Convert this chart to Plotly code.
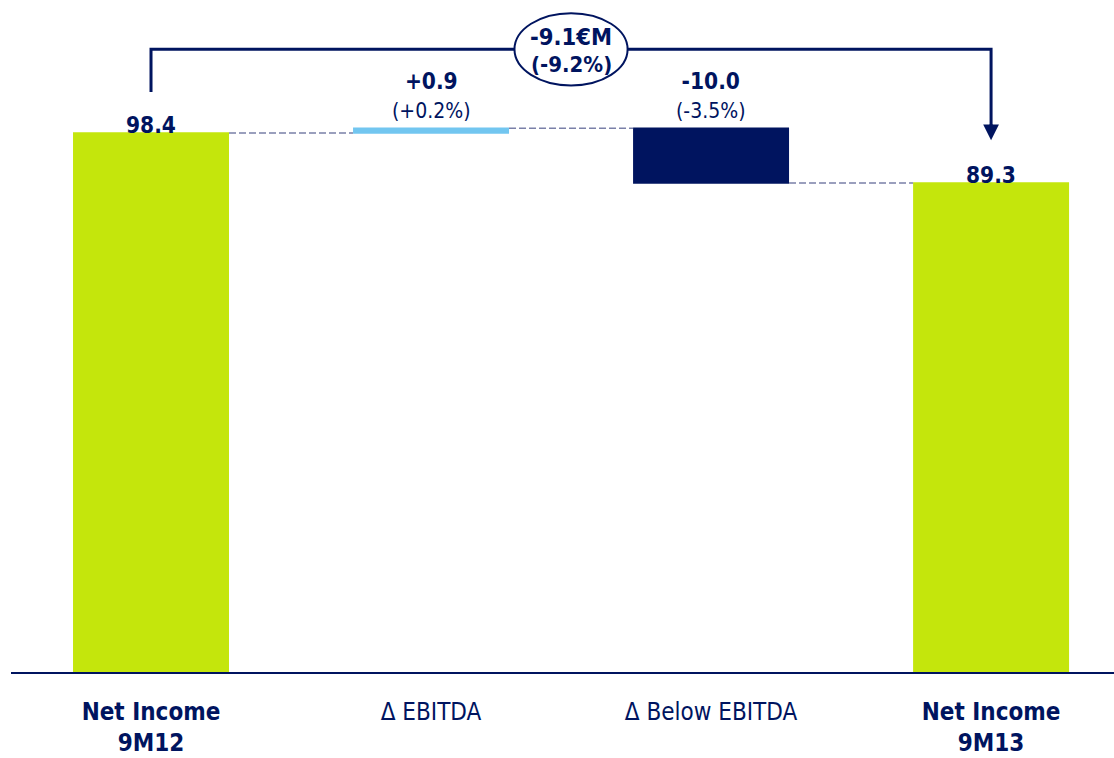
import plotly.graph_objects as go

# ---- data ----
categories = ["Net Income 9M12", "Δ EBITDA", "Δ Below EBITDA", "Net Income 9M13"]
tick_labels = ["<b>Net Income<br>9M12</b>", "Δ EBITDA", "Δ Below EBITDA", "<b>Net Income<br>9M13</b>"]
measures = ["absolute", "relative", "relative", "total"]
values = [98.4, 0.9, -10.0, 0]
value_labels = ["98.4", "+0.9", "-10.0", "89.3"]
pct_labels = ["", "(+0.2%)", "(-3.5%)", ""]
total_change_label = "-9.1€M"
total_change_pct = "(-9.2%)"

NAVY = "#00145F"
LIME = "#C4E60C"
LIGHTBLUE = "#72C6F0"
DASH = "#7A80A8"
FONT = "DejaVu Sans Condensed, DejaVu Sans, sans-serif"

xs = list(range(len(categories)))

# cumulative levels for label placement
levels = []
run = 0.0
for m, v in zip(measures, values):
    if m == "absolute":
        run = v
        levels.append((0.0, run))
    elif m == "relative":
        start = run
        run = run + v
        levels.append((start, run))
    else:
        levels.append((0.0, run))

fig = go.Figure(go.Waterfall(
    x=xs,
    measure=measures,
    y=values,
    width=0.557,
    increasing=dict(marker=dict(color=LIGHTBLUE)),
    decreasing=dict(marker=dict(color=NAVY)),
    totals=dict(marker=dict(color=LIME)),
    connector=dict(mode="between", line=dict(color=DASH, width=1.5, dash="7px,3px")),
    hoverinfo="skip",
))

annotations = []
for i, (lo, hi) in enumerate(levels):
    top = max(lo, hi)
    if pct_labels[i]:
        txt = f"<b>{value_labels[i]}</b><br><span style='font-size:21px'>{pct_labels[i]}</span>"
        ysh = 3
    else:
        txt = f"<b>{value_labels[i]}</b>"
        ysh = -7
    annotations.append(dict(
        x=xs[i], y=top, text=txt, showarrow=False, yanchor="bottom",
        yshift=ysh, font=dict(family=FONT, size=22.5, color=NAVY),
    ))

# bracket showing total change
start_val = levels[0][1]
end_val = levels[-1][1]
y_top = 113.7
x_mid = (xs[0] + xs[-1]) / 2

shapes = [
    dict(type="path", xref="x", yref="y",
         path=f"M {xs[0]},{start_val + 7.5} L {xs[0]},{y_top} L {xs[-1]},{y_top} L {xs[-1]},{end_val + 9.5}",
         line=dict(color=NAVY, width=3)),
    dict(type="circle", xref="x", yref="y",
         x0=x_mid - 0.202, x1=x_mid + 0.202, y0=y_top - 6.6, y1=y_top + 6.6,
         fillcolor="white", line=dict(color=NAVY, width=2)),
]

annotations.append(dict(
    x=xs[-1], y=end_val + 7.8, ax=xs[-1], ay=end_val + 11, axref="x", ayref="y",
    xref="x", yref="y", showarrow=True, arrowhead=2, arrowwidth=3, arrowsize=1.05,
    arrowcolor=NAVY, text="",
))
annotations.append(dict(
    x=x_mid, y=y_top, text=f"<b>{total_change_label}</b>", yshift=12,
    showarrow=False, font=dict(family=FONT, size=23.5, color=NAVY),
))
annotations.append(dict(
    x=x_mid, y=y_top, text=f"<b>{total_change_pct}</b>", yshift=-15,
    showarrow=False, font=dict(family=FONT, size=22, color=NAVY),
))

fig.update_layout(
    width=1114, height=758,
    margin=dict(l=11, r=0, t=0, b=86),
    plot_bgcolor="white", paper_bgcolor="white",
    showlegend=False,
    shapes=shapes,
    annotations=annotations,
    font=dict(family=FONT, color=NAVY),
    xaxis=dict(
        range=[-0.5, 3.439], tickvals=xs, ticktext=tick_labels,
        showgrid=False, zeroline=False, showline=True, linecolor=NAVY, linewidth=2,
        ticks="", ticklabelstandoff=17, tickfont=dict(family=FONT, size=24, color=NAVY),
        fixedrange=True, automargin=False,
    ),
    yaxis=dict(range=[0, 122.7], visible=False, fixedrange=True, automargin=False),
)

fig.write_html(
    "out.html",
    config={"displayModeBar": False},
    post_script="document.body.style.margin='0';document.body.style.overflow='hidden';",
)
